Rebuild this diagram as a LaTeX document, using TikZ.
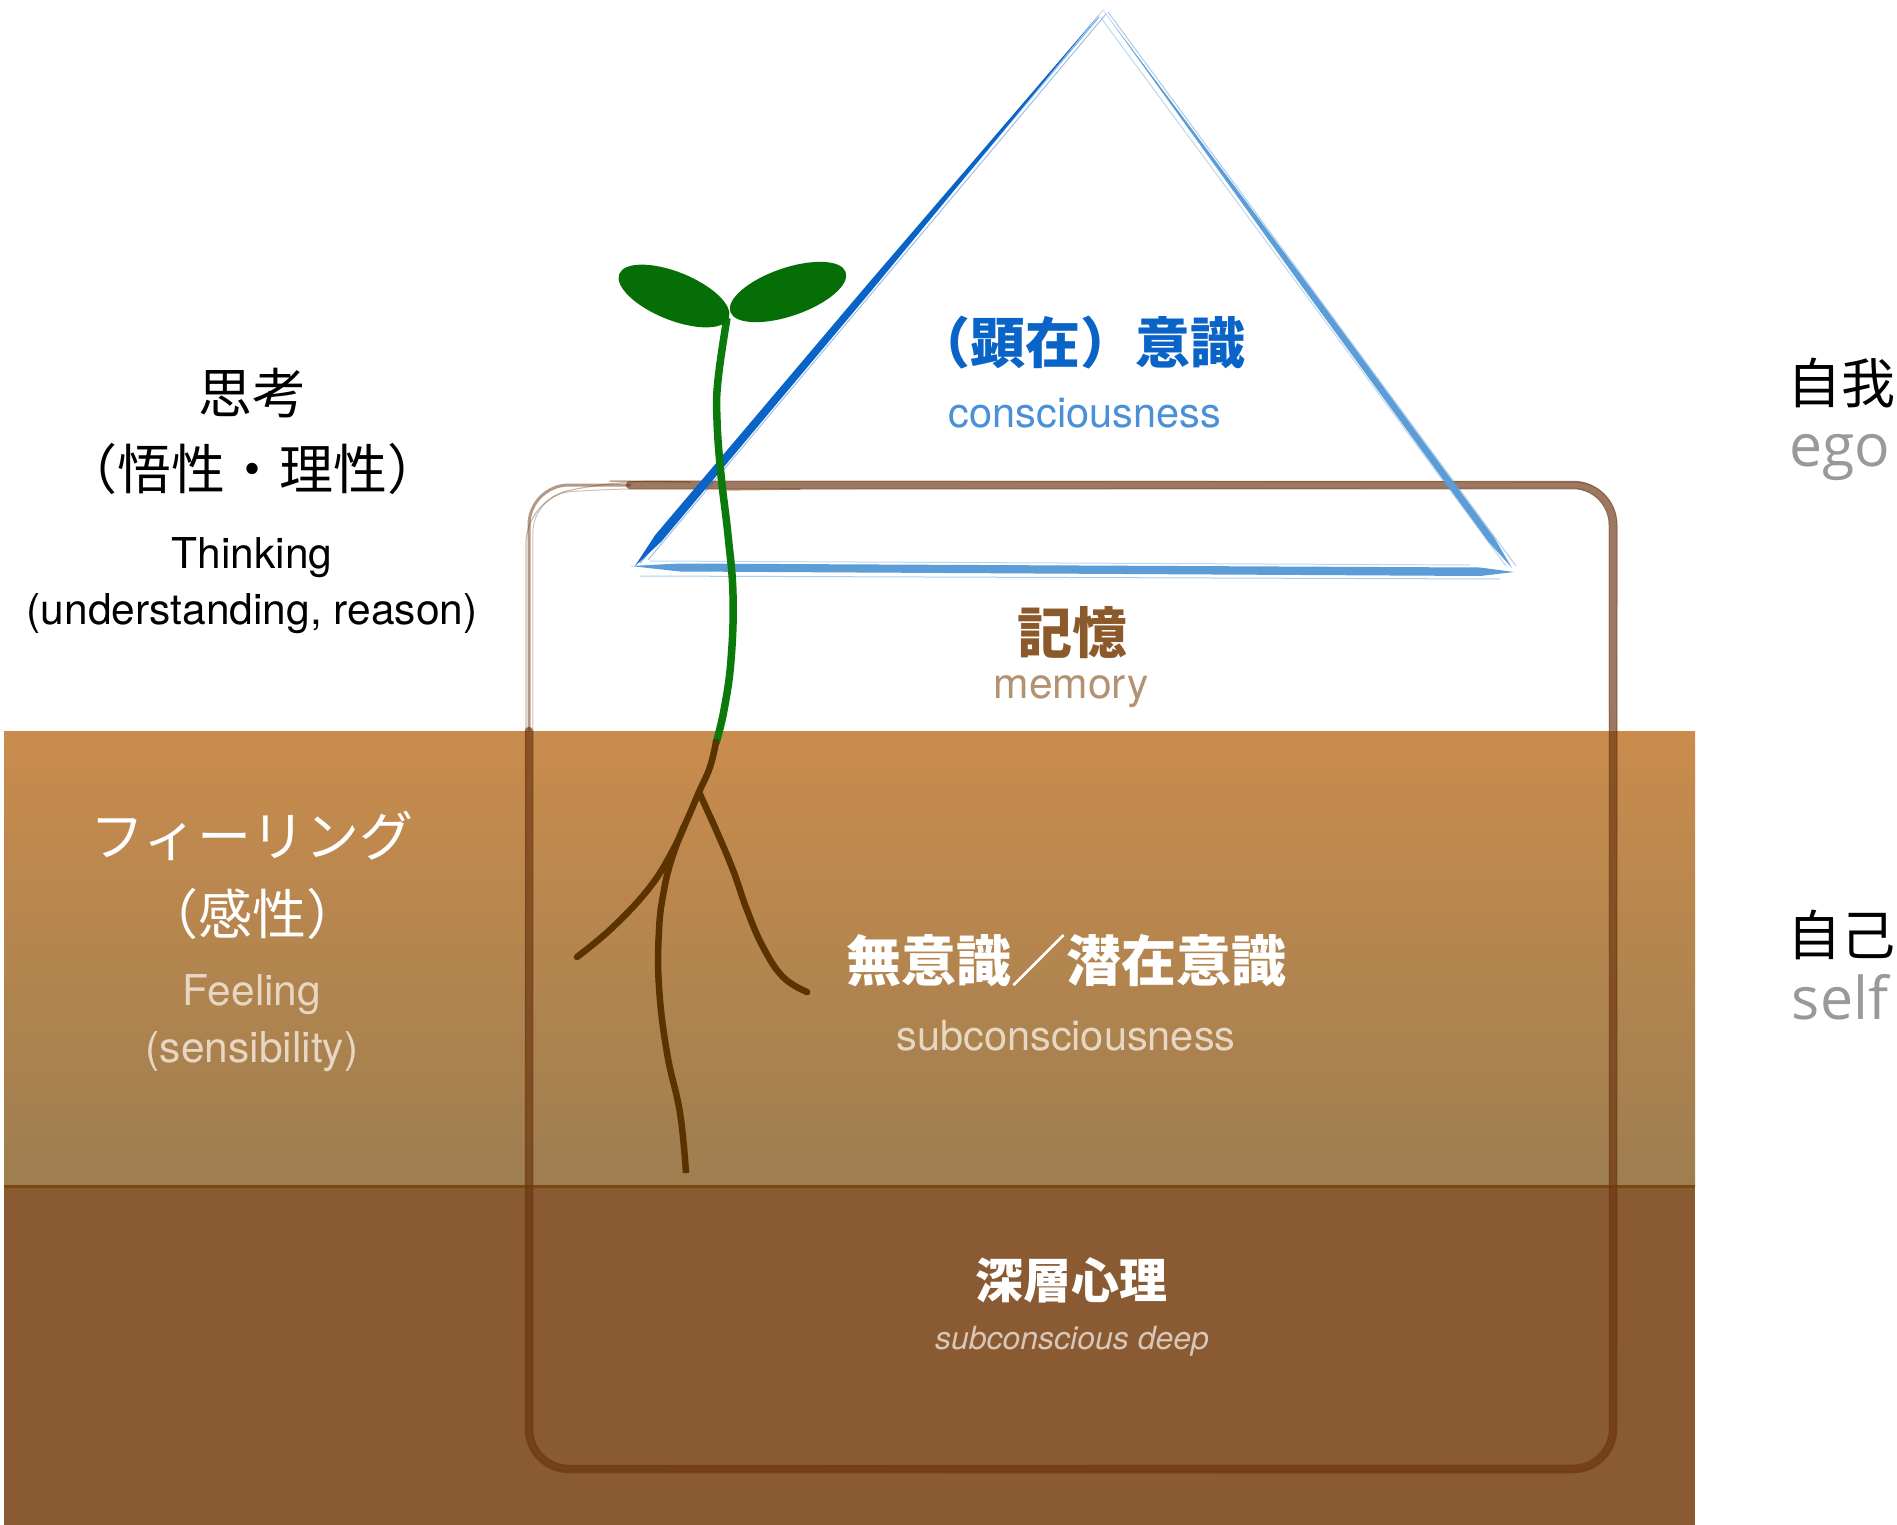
\documentclass[tikz,border=0pt]{standalone}
\usepackage{fontspec}
\setmainfont{TeX Gyre Heros}
\newfontfamily\jpfont{Noto Sans CJK JP}
\newfontfamily\egofont{Open Sans}

\definecolor{soilTop}{HTML}{C98C4D}
\definecolor{soilMid}{HTML}{9E7E50}
\definecolor{soilDeep}{HTML}{8A5A33}
\definecolor{soilLine}{HTML}{7A4A14}
\definecolor{frameBrown}{HTML}{6B3510}
\definecolor{blueDark}{HTML}{0A64C8}
\definecolor{blueLight}{HTML}{5C9DD8}
\definecolor{leafGreen}{HTML}{066E06}
\definecolor{stemGreen}{HTML}{0B7A0B}
\definecolor{rootBrown}{HTML}{5A3300}
\definecolor{memBrown}{HTML}{8B5A2B}
\definecolor{memLight}{HTML}{B39274}
\definecolor{paleText}{HTML}{E6D6C2}
\definecolor{deepText}{HTML}{D8C6B6}
\definecolor{consBlue}{HTML}{4A90D9}
\definecolor{greyText}{HTML}{999999}

\tikzset{
  lbl/.style={inner sep=0pt, anchor=center, align=center},
  jpbig/.style={lbl, font=\jpfont\fontsize{54}{60}\selectfont},
  jpbold/.style={lbl, font=\jpfont\bfseries\fontsize{55}{60}\selectfont},
  entext/.style={lbl, font=\fontsize{42.5}{48}\selectfont},
  ensmall/.style={lbl, font=\fontsize{41.5}{46}\selectfont},
  egotext/.style={lbl, font=\egofont\fontsize{59}{64}\selectfont, text=greyText},
  framestroke/.style={draw=frameBrown, draw opacity=0.66, rounded corners=40pt, line cap=round, line join=round},
  rootline/.style={draw=rootBrown, line width=6.5pt},
}

\begin{document}
\begin{tikzpicture}[x=1pt, y=-1pt]
\useasboundingbox (0,0) rectangle (1897,1525);
\fill[white] (0,0) rectangle (1897,1525);

% soil layers
\shade[top color=soilTop, bottom color=soilMid] (4,731) rectangle (1695,1186);
\fill[soilDeep] (4,1186) rectangle (1695,1525);
\draw[soilLine, line width=3pt] (4,1186) -- (1695,1186);

% memory frame (hand-drawn look: several overlapping strokes)
\path[framestroke, line width=8.5pt] (630,485) -- (1613,485) -- (1613,1469) -- (529,1469) -- (529,731);
\path[framestroke, line width=3pt, draw opacity=0.5] (529,731) -- (529,485) -- (630,485);
\path[framestroke, line width=1.2pt, draw opacity=0.35, rounded corners=43pt] (612,481) -- (1617,482) -- (1616,1472) -- (526,1471) -- (526,500) -- cycle;
\path[framestroke, line width=1pt, draw opacity=0.3, rounded corners=37pt] (600,489) -- (1609,488) -- (1610,1465) -- (532,1466) -- (533,495) -- cycle;
\path[framestroke, line width=1.5pt, draw opacity=0.45, rounded corners=0pt] (610,481) -- (690,482) (720,490) -- (800,489);

% consciousness triangle, brush strokes
\fill[blueDark] (1103,10) -- (871.7,290.3) -- (661.8,541.1) -- (635,566) -- (655.0,535.3) -- (866.3,285.7) -- cycle;
\draw[blueDark, line width=1.2pt, opacity=0.5] (1099,17) -- (640,563);
\draw[blueDark, line width=1pt, opacity=0.4] (1106,14) -- (648,560);
\fill[blueLight] (1103,10) -- (1309.9,287.2) -- (1494.4,538.0) -- (1512,568) -- (1488.8,542.2) -- (1305.1,290.8) -- cycle;
\draw[blueLight, line width=1pt, opacity=0.5] (1108,12) -- (1516,566);
\draw[blueLight, line width=1pt, opacity=0.4] (1101,18) -- (1506,566);
\fill[blueLight] (630,566) -- (680,563.5) -- (1480,567.5) -- (1514,572) -- (1480,576) -- (680,571.5) -- cycle;
\draw[blueLight, line width=1pt, opacity=0.5] (640,576) -- (1500,579);
\draw[blueLight, line width=1pt, opacity=0.4] (650,561) -- (1470,565);

% seedling: stem, leaves and roots
\draw[stemGreen, line width=7.5pt] plot[smooth, tension=0.7] coordinates {(727,318) (718,380) (717,420) (721,475) (728,535) (733,595) (731,660) (724,710) (716,743)};
\fill[leafGreen, rotate around={-22:(674,296)}] (674,296) ellipse (59 and 24);
\fill[leafGreen, rotate around={19:(788,292)}] (788,292) ellipse (61 and 24);
\draw[rootline, line cap=round] plot[smooth, tension=0.7] coordinates {(716,742) (710,767) (699,792) (687,820) (673,850) (650,887) (613,927) (577,957)};
\draw[rootline] plot[smooth, tension=0.7] coordinates {(684,826) (672,858) (664,890) (659,930) (659,987) (667,1053) (680,1113) (686,1173)};
\draw[rootline, line cap=round] plot[smooth, tension=0.7] coordinates {(699,792) (708,812) (717,832) (733,870) (747,910) (763,947) (783,977) (807,992)};

% left column
\node[jpbig] (thinkJ) at (252,393) {思考};
\node[jpbig] (thinkJ2) at (252,469) {（悟性・理性）};
\node[entext] (thinkE) at (252,558) {Thinking};
\node[entext] (thinkE2) at (252,614) {(understanding, reason)};
\node[jpbig, text=white] (feelJ) at (252,836) {フィーリング};
\node[jpbig, text=white] (feelJ2) at (252,914) {（感性）};
\node[entext, text=paleText] (feelE) at (252,995) {Feeling};
\node[entext, text=paleText] (feelE2) at (252,1052) {(sensibility)};

% centre labels
\node[jpbold, text=blueDark] (consJ) at (1080,343) {（顕在）意識};
\node[ensmall, text=consBlue] (consE) at (1085,413) {consciousness};
\node[jpbold, text=memBrown] (memJ) at (1072,633) {記憶};
\node[entext, text=memLight] (memE) at (1071,692) {memory};
\node[jpbold, text=white] (subJ) at (1066,961) {無意識／潜在意識};
\node[ensmall, text=paleText] (subE) at (1066,1036) {subconsciousness};
\node[lbl, font=\jpfont\bfseries\fontsize{48}{54}\selectfont, text=white] (deepJ) at (1071,1280) {深層心理};
\node[lbl, font=\itshape\fontsize{32}{38}\selectfont, text=deepText] (deepE) at (1072,1341) {subconscious deep};

% right column
\node[jpbig] (egoJ) at (1841,383) {自我};
\node[egotext] (egoE) at (1840,458) {ego};
\node[jpbig] (selfJ) at (1841,935) {自己};
\node[egotext] (selfE) at (1840,997) {self};
\end{tikzpicture}
\end{document}
